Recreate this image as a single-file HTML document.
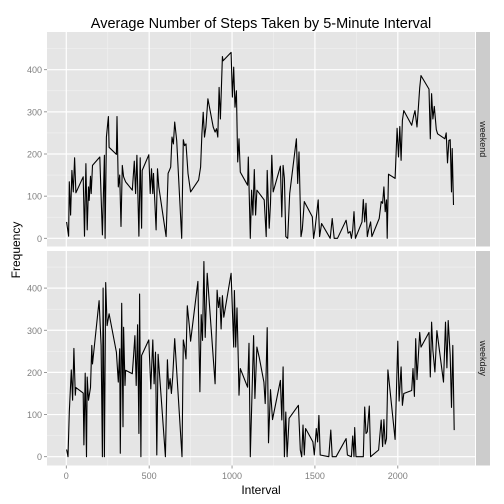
<!DOCTYPE html>
<html><head><meta charset="utf-8"><style>
body{margin:0;background:#fff}
svg{display:block;font-family:"Liberation Sans",Arial,sans-serif}
</style></head><body>
<svg id="chart" width="504" height="504" xmlns="http://www.w3.org/2000/svg">
<rect width="504" height="504" fill="#fff"/>
<text x="261" y="28" text-anchor="middle" font-size="14.5" fill="#000">Average Number of Steps Taken by 5-Minute Interval</text>
<text x="261" y="494" text-anchor="middle" font-size="12" fill="#000">Interval</text>
<text transform="translate(20,250) rotate(-90)" text-anchor="middle" font-size="12" fill="#000">Frequency</text>
<g id="plot"></g>
</svg>
<script>
const xTicks=[0,500,1000,1500,2000];
const yTicks=[0,100,200,300,400];
const panels=["weekend","weekday"];
const weekendX=[2,14,18,26,34,42,50,58,102,110,118,126,134,138,146,150,158,202,218,230,234,242,254,258,302,306,314,322,330,338,346,358,398,410,418,426,438,446,454,458,498,506,514,522,526,534,542,550,558,602,614,622,630,638,646,654,666,696,706,714,722,734,750,798,810,818,826,834,842,854,886,898,906,914,922,930,942,946,994,1002,1010,1018,1026,1034,1042,1050,1094,1098,1110,1118,1126,1134,1142,1150,1194,1206,1212,1224,1232,1240,1248,1292,1300,1308,1316,1324,1336,1348,1388,1396,1404,1416,1424,1436,1484,1492,1500,1520,1528,1540,1592,1604,1616,1636,1688,1700,1712,1720,1728,1736,1744,1784,1792,1800,1808,1816,1824,1836,1844,1888,1900,1908,1916,1924,1932,1936,1944,1984,1996,2004,2012,2020,2028,2036,2084,2096,2104,2116,2124,2132,2140,2188,2196,2204,2212,2220,2232,2240,2284,2292,2300,2308,2316,2324,2328,2336];
const weekendY=[39,5,134,55,161,110,191,108,146,5,177,20,122,90,147,106,173,193,8,197,0,240,289,216,199,289,122,150,28,173,146,134,114,183,106,197,5,191,24,161,198,106,165,106,154,87,20,165,122,4,154,161,169,240,224,276,232,0,234,220,224,154,110,138,169,248,299,240,264,331,264,252,260,240,358,283,431,421,441,335,406,311,350,181,236,157,126,193,0,114,55,163,55,114,91,4,161,24,83,197,110,171,51,173,142,4,0,106,236,130,205,4,21,87,51,0,20,91,4,35,0,47,0,0,43,12,16,0,20,63,0,39,92,39,83,4,20,39,4,47,87,83,122,63,91,0,152,142,261,193,265,185,280,303,268,291,303,264,311,357,386,354,236,343,283,313,258,248,236,250,179,232,234,110,213,79];
const weekdayX=[2,10,18,30,38,46,54,58,102,106,114,122,126,134,146,154,158,198,210,218,222,230,238,246,258,302,314,322,326,334,342,346,354,358,398,406,414,422,430,438,442,450,454,498,510,522,530,538,546,554,598,610,618,626,634,642,654,698,706,714,722,730,742,750,794,806,814,822,830,838,850,898,910,918,926,934,942,950,994,1010,1014,1022,1030,1038,1042,1050,1094,1102,1110,1130,1138,1150,1164,1192,1200,1204,1212,1220,1232,1244,1292,1300,1308,1316,1324,1332,1344,1400,1412,1420,1428,1436,1444,1488,1496,1508,1516,1524,1532,1584,1596,1604,1628,1688,1696,1720,1728,1736,1740,1748,1792,1800,1808,1816,1828,1836,1884,1900,1908,1916,1924,1932,1940,1984,2000,2008,2020,2028,2036,2084,2092,2100,2108,2116,2132,2140,2188,2196,2204,2212,2224,2236,2276,2288,2296,2304,2316,2324,2332,2340];
const weekdayY=[17,0,106,206,134,257,146,164,151,28,198,0,189,134,164,264,220,370,264,0,400,0,413,311,339,248,177,256,8,364,71,307,169,205,197,240,287,169,313,55,386,0,240,277,161,277,173,248,4,243,0,230,161,185,150,189,280,0,277,261,232,358,311,274,416,154,337,276,463,283,435,173,395,354,378,303,382,331,435,260,394,260,353,228,146,209,165,269,0,287,138,260,236,177,126,177,306,33,159,88,181,87,213,0,106,0,91,122,16,0,75,4,67,35,4,67,35,98,4,0,63,0,0,43,4,0,49,0,69,0,0,118,55,59,120,0,16,87,24,88,30,43,206,41,274,132,213,122,150,157,209,143,280,183,295,260,295,189,319,252,201,299,177,319,211,323,240,117,264,63];
const seriesX=[weekendX,weekdayX], seriesY=[weekendY,weekdayY];

const NS="http://www.w3.org/2000/svg";
const plot=document.getElementById('plot');
const PX0=47,PX1=475;
const panelBox=[{y0:32,y1:246.5},{y0:251,y1:465.5}];
const zeroY=[238.3,456.7];
const perUnit=0.4215;
function xs(v){return 66.3+v*0.16575;}
function ys(p,v){return zeroY[p]-v*perUnit;}
function mk(tag,attrs){const e=document.createElementNS(NS,tag);for(const k in attrs)e.setAttribute(k,attrs[k]);plot.appendChild(e);return e;}

panels.forEach((name,p)=>{
  const b=panelBox[p];
  const bg=mk('rect',{x:PX0,y:b.y0,width:PX1-PX0,height:b.y1-b.y0,fill:'#e5e5e5'});
  
  
  // minor grid
  for(let v=-250;v<=2500;v+=500){const x=xs(v);if(x>PX0&&x<PX1)mk('line',{x1:x,x2:x,y1:b.y0,y2:b.y1,stroke:'#f2f2f2','stroke-width':0.6});}
  for(let v=50;v<=450;v+=100){const y=ys(p,v);if(y>b.y0)mk('line',{x1:PX0,x2:PX1,y1:y,y2:y,stroke:'#f2f2f2','stroke-width':0.6});}
  xTicks.forEach(v=>{const x=xs(v);mk('line',{x1:x,x2:x,y1:b.y0,y2:b.y1,stroke:'#fff','stroke-width':1.2});});
  yTicks.forEach(v=>{const y=ys(p,v);mk('line',{x1:PX0,x2:PX1,y1:y,y2:y,stroke:'#fff','stroke-width':1.2});
    mk('line',{x1:PX0-3,x2:PX0,y1:y,y2:y,stroke:'#7f7f7f','stroke-width':0.8});
    const t=mk('text',{x:PX0-5,y:y+3.5,'text-anchor':'end','font-size':9,fill:'#7f7f7f'});t.textContent=v;
    
    });
  // strip
  const s=mk('rect',{x:476,y:b.y0,width:14,height:b.y1-b.y0,fill:'#cccccc'});
  
  
  const st=mk('text',{transform:`translate(480,${(b.y0+b.y1)/2}) rotate(90)`,'text-anchor':'middle','font-size':9,fill:'#1a1a1a'});
  st.textContent=name;
  
  
  // line
  const X=seriesX[p],Y=seriesY[p];
  let d='';X.forEach((v,i)=>{d+=(i?'L':'M')+xs(v).toFixed(1)+','+ys(p,Y[i]).toFixed(1);});
  const ln=mk('path',{d:d,fill:'none',stroke:'#000','stroke-width':1.1,'stroke-linejoin':'round'});
  
  
});
xTicks.forEach(v=>{const x=xs(v);
  mk('line',{x1:x,x2:x,y1:465.5,y2:468.5,stroke:'#7f7f7f','stroke-width':0.8});
  const t=mk('text',{x:x,y:479,'text-anchor':'middle','font-size':9,fill:'#7f7f7f'});t.textContent=v;
  
  });
</script>
</body></html>
